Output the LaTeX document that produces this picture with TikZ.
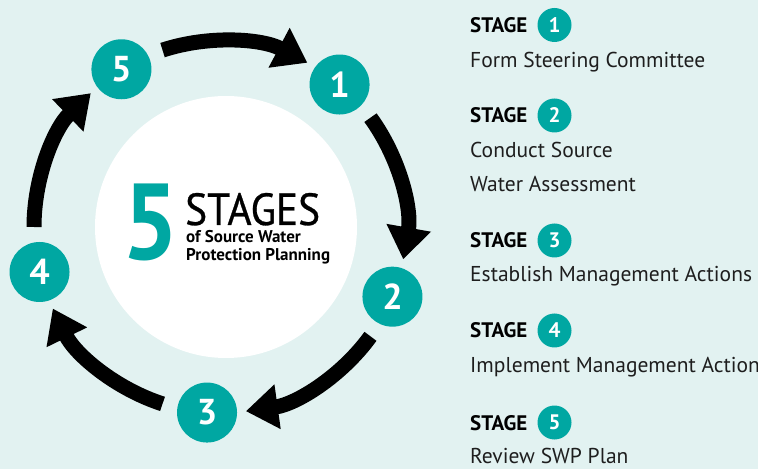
\documentclass[tikz,border=0pt]{standalone}
\usepackage{fontspec}
\setmainfont{PT Sans}
\newfontfamily\descfont{PT Sans}
\newfontfamily\boldfont{PT Sans Bold}
\newfontfamily\titlefont[FakeStretch=0.92,FakeBold=0.6]{PT Sans}
\newfontfamily\bigfivefont[FakeStretch=0.92]{PT Sans Bold}
\usetikzlibrary{arrows.meta}
\definecolor{bgcol}{HTML}{E2F2F1}
\definecolor{teal}{HTML}{00A7A2}
\definecolor{txt}{HTML}{1E1E1E}
\tikzset{
  bigstage/.style={circle,fill=teal,minimum size=60pt,inner sep=0pt,text=white,font=\boldfont\fontsize{36}{36}\selectfont},
  smallstage/.style={circle,fill=teal,minimum size=34pt,inner sep=0pt,text=white,font=\boldfont\fontsize{21}{21}\selectfont},
  stagelabel/.style={anchor=base west,inner sep=0pt,text=black,font=\boldfont\fontsize{21}{21}\selectfont},
  desc/.style={anchor=base west,inner sep=0pt,text=txt,font=\descfont\fontsize{21.5}{21.5}\selectfont},
  titletext/.style={anchor=base west,inner sep=0pt,text=black},
  cyclearrow/.style={line width=15pt,-{Triangle[width=43pt,length=32pt]}}
}
\begin{document}
\begin{tikzpicture}[x=1pt,y=1pt]
\fill[bgcol] (0,0) rectangle (758,469);
\useasboundingbox (0,0) rectangle (758,469);
\coordinate (C) at (220,242);
\coordinate (W) at (226,242);
\node[circle,fill=white,minimum size=262pt,inner sep=0pt] (centre) at (W) {};
% arrows
\draw[cyclearrow] ([shift={(108:186)}]C) arc[start angle=108,end angle=62,radius=186];
\draw[cyclearrow] ([shift={(36:186)}]C) arc[start angle=36,end angle=-10,radius=186];
\draw[cyclearrow] ([shift={(-36:186)}]C) arc[start angle=-36,end angle=-82,radius=186];
\draw[cyclearrow] ([shift={(-108:186)}]C) arc[start angle=-108,end angle=-154,radius=186];
\draw[cyclearrow] ([shift={(-180:186)}]C) arc[start angle=-180,end angle=-226,radius=186];
% stage circles
\node[bigstage] (n1) at ([shift={(50:186)}]C) {1};
\node[bigstage] (n2) at ([shift={(-22:186)}]C) {2};
\node[bigstage] (n3) at ([shift={(-94:186)}]C) {3};
\node[bigstage] (n4) at ([shift={(-166:186)}]C) {4};
\node[bigstage] (n5) at ([shift={(-238:186)}]C) {5};
% centre title
\node[titletext,text=teal,font=\bigfivefont\fontsize{108}{108}\selectfont] (five) at (122,209) {5};
\node[titletext,text depth=0pt,font=\titlefont\fontsize{45}{45}\selectfont] (stages) at (185,244) {STAGES};
\node[titletext,text height=10pt,font=\boldfont\fontsize{17}{17}\selectfont] (sub1) at (186,226) {of Source Water};
\node[titletext,font=\boldfont\fontsize{17}{17}\selectfont] (sub2) at (186,208) {Protection Planning};
% legend
\node[stagelabel] (s1) at (470,436) {STAGE};
\node[smallstage] (c1) at (554.5,444) {1};
\node[desc] (d1) at (470,401) {Form Steering Committee};
\node[stagelabel] (s2) at (470,346) {STAGE};
\node[smallstage] (c2) at (554.5,353.5) {2};
\node[desc] (d2a) at (470,311) {Conduct Source};
\node[desc] (d2b) at (470,277) {Water Assessment};
\node[stagelabel] (s3) at (470,221) {STAGE};
\node[smallstage] (c3) at (554.5,228.5) {3};
\node[desc] (d3) at (470,187) {Establish Management Actions};
\node[stagelabel] (s4) at (470,131) {STAGE};
\node[smallstage] (c4) at (554.5,138.5) {4};
\node[desc] (d4) at (470,96) {Implement Management Actions};
\node[stagelabel] (s5) at (470,39) {STAGE};
\node[smallstage] (c5) at (554.5,46.5) {5};
\node[desc] (d5) at (470,6) {Review SWP Plan};
\end{tikzpicture}
\end{document}
